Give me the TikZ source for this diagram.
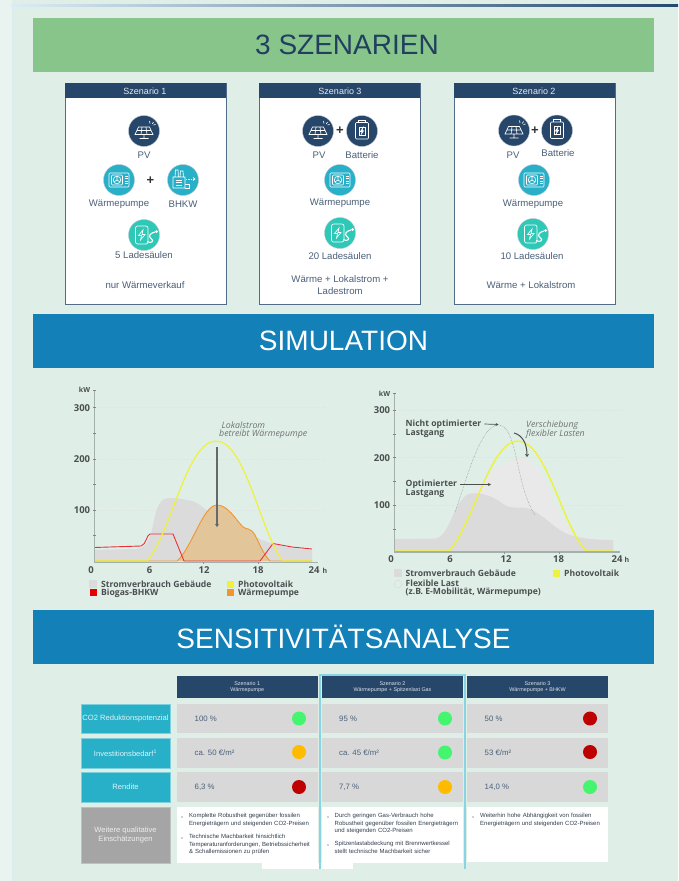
\documentclass[tikz,border=0pt]{standalone}
\usepackage{fontspec}
\setmainfont{Liberation Sans}
\newfontfamily\chartfont{Open Sans}
\usetikzlibrary{arrows.meta}
\definecolor{bgc}{HTML}{E0EEE8}
\definecolor{greenbar}{HTML}{87C58B}
\definecolor{bluebar}{HTML}{1380B8}
\definecolor{navy}{HTML}{26466A}
\definecolor{aqua}{HTML}{27B0C8}
\definecolor{mint}{HTML}{2DC9B6}
\definecolor{txtb}{HTML}{4A5F78}
\definecolor{cellg}{HTML}{D8D8D8}
\definecolor{qualg}{HTML}{A5A5A5}
\definecolor{sgreen}{HTML}{45F56F}
\definecolor{samber}{HTML}{FFBB00}
\definecolor{sred}{HTML}{BE0000}
\definecolor{pvy}{HTML}{EEF23A}
\definecolor{orangec}{HTML}{F0962E}
\definecolor{orangef}{HTML}{E3C59A}
\definecolor{redc}{HTML}{E8303A}
\definecolor{axisc}{HTML}{A3B0AC}
\definecolor{loadg}{HTML}{DBDBDB}
\definecolor{flexg}{HTML}{E9E9E9}
\definecolor{charttxt}{HTML}{4A4F50}
\tikzset{
 x=1pt,y=-1pt,
 banner/.style={minimum height=54pt,inner sep=0,font=\fontsize{28}{30}\selectfont},
 scard/.style={draw=navy!80,line width=1pt,fill=white},
 shead/.style={fill=navy,inner sep=0,text=white!90!navy,font=\fontsize{9}{10}\selectfont},
 lab/.style={text=txtb,font=\fontsize{9.6}{11.5}\selectfont,align=center,inner sep=0},
 icn/.style={circle,draw=white!70!navy,line width=0.4pt,minimum size=31pt,inner sep=0},
 pvicn/.style={icn,fill=navy},
 wpicn/.style={icn,fill=aqua},
 laicn/.style={icn,fill=mint},
 plus/.style={inner sep=0,font=\bfseries\fontsize{13}{13}\selectfont,text=black!80},
 rowlab/.style={fill=aqua,draw=aqua!60!white,line width=.4pt,text=white!85!aqua,minimum width=89pt,minimum height=29.5pt,inner sep=0,align=center,font=\fontsize{7.6}{9.5}\selectfont},
 thead/.style={fill=navy,text=white!85!navy,inner sep=0,align=center,font=\fontsize{5.4}{6.4}\selectfont},
 val/.style={anchor=west,text=txtb,inner sep=0,font=\fontsize{7.8}{9}\selectfont},
 dotg/.style={circle,fill=sgreen,minimum size=14pt,inner sep=0},
 dota/.style={circle,fill=samber,minimum size=14pt,inner sep=0},
 dotr/.style={circle,fill=sred,minimum size=14pt,inner sep=0},
 bul/.style={anchor=north west,inner sep=0,align=left,text=txtb!65!black,font=\fontsize{6}{7.3}\selectfont,text width=140pt},
 tick/.style={font=\chartfont\bfseries\fontsize{9.5}{9.5}\selectfont,text=charttxt,inner sep=0},
 smalltick/.style={font=\chartfont\bfseries\fontsize{7}{7}\selectfont,text=charttxt,inner sep=0},
 lege/.style={font=\chartfont\bfseries\fontsize{8.6}{9}\selectfont,text=charttxt,inner sep=0,anchor=west,align=left},
 note/.style={font=\chartfont\itshape\fontsize{8.8}{9}\selectfont,text=charttxt!80,inner sep=0,align=left,anchor=west},
 grid line/.style={draw=axisc!35,line width=.3pt,dotted},
 ptr/.style={draw=charttxt,line width=.7pt,-{Stealth[length=3pt,width=3pt]}},
}
\newcommand{\pvglyph}[1]{\begin{scope}[shift={(#1)},white,line width=.65pt]
 \draw (-9,3.5)--(-5.5,-4)--(5.5,-4)--(9,3.5)--cycle (-7,-.5)--(7,-.5) (-2,-4)--(-3,3.5) (2,-4)--(3,3.5) (0,3.5)--(0,7) (-4.5,7.5)--(4.5,7.5);
 \draw (5.5,-10)--(6,-7.5) (9.5,-9)--(8.3,-7) (11.5,-6.5)--(9.5,-6);\end{scope}}
\newcommand{\batglyph}[1]{\begin{scope}[shift={(#1)},white,line width=.65pt]
 \draw[rounded corners=1pt] (-6.5,-8.5) rectangle (6.5,8);\draw (-3.5,-8.5)--(-3.5,-11)--(3.5,-11)--(3.5,-8.5);
 \draw (-3,-4) rectangle (3,4);
 \draw (.8,-3)--(-1.6,.5)--(0,.5)--(-.6,3)--(1.6,-.3)--(0,-.3)--cycle;\end{scope}}
\newcommand{\wpglyph}[1]{\begin{scope}[shift={(#1)},white,line width=.65pt]
 \draw[rounded corners=1pt] (-10,-7) rectangle (10,7);\draw[rounded corners=1pt] (-7.5,-5) rectangle (3.5,5);
 \draw (-2,0) circle (3.8pt) (-2,0)--(-2,-3.8) (-2,0)--(-5.2,2) (-2,0)--(1.2,2);
 \draw (5.5,-3.5)--(8.5,-3.5) (5.5,-1.2)--(8.5,-1.2) (5.5,1.2)--(8.5,1.2) (5.5,3.5)--(8.5,3.5);\end{scope}}
\newcommand{\bhglyph}[1]{\begin{scope}[shift={(#1)},white,line width=.65pt]
 \draw (-10,8)--(-10,-3)--(2,-3)--(2,8)--cycle (-8,-3)--(-7.5,-10)--(-5,-10)--(-4.5,-3) (-3,-3)--(-2.5,-9)--(0,-9)--(.5,-3);
 \draw (-7,0)--(-1,0) (-7,2.5)--(-1,2.5) (-7,5)--(-1,5) (2,4)--(6,4)--(6,8)--(2,8);
 \draw[densely dotted] (3,-1)--(12,-1);\draw (10,-2.5)--(12,-1)--(10,.5);\end{scope}}
\newcommand{\laglyph}[1]{\begin{scope}[shift={(#1)},white,line width=.65pt]
 \draw[rounded corners=2pt] (-8.5,-9) rectangle (4,9);
 \draw (-1,-5)--(-5.5,.5)--(-2.5,.5)--(-3.5,5)--(1,-.5)--(-2,-.5)--cycle;
 \draw[line width=1.1pt] (3,6.5)..controls (7,9) and (11,6) .. (7,3.5) .. controls (4,1.5) and (6,-2) .. (11,-3);
 \fill (12.5,-3.5) circle (1.5pt);\end{scope}}
\begin{document}
\begin{tikzpicture}
\useasboundingbox (0,0) rectangle (678,881);
\fill[bgc] (0,0) rectangle (678,881);
\fill[bgc!70!white] (0,0) rectangle (12,881);
\shade[left color=bluebar!15!white,middle color=bluebar!35!white,right color=navy!95!bluebar] (11,4.3) rectangle (678,6.5);
\fill[bluebar!15!white] (11.5,5) rectangle (14,881);
% banners
\node[banner,fill=greenbar,text=navy!90!black,minimum width=621pt] (b1) at (343.5,45) {\hspace*{7pt}\raisebox{-1pt}{3 SZENARIEN}};
\node[banner,fill=bluebar,text=white,minimum width=621pt] (b2) at (343.5,341) {\raisebox{-1pt}{SIMULATION}};
\node[banner,fill=bluebar,text=white,minimum width=621pt] (b3) at (343.5,637) {SENSITIVITÄTSANALYSE};
% scenario cards
\draw[scard] (65,83) rectangle (226,304);
\fill[navy] (65,83) rectangle (226,98);
\node[shead] (h1) at (145,91) {Szenario 1};
\draw[scard] (259,83) rectangle (420,304);
\fill[navy] (259,83) rectangle (420,98);
\node[shead] (h3) at (340,91) {Szenario 3};
\draw[scard] (454,83) rectangle (615,304);
\fill[navy] (454,83) rectangle (615,98);
\node[shead] (h2) at (534,91) {Szenario 2};
% card 1
\node[pvicn] (a1) at (144,131) {};\pvglyph{144,131}
\node[lab] (a1t) at (144,155) {PV};
\node[wpicn] (a2) at (119,180) {};\wpglyph{119,180}
\node[plus] (a3) at (150.5,181) {+};
\node[wpicn] (a4) at (183,180) {};\bhglyph{183,180}
\node[lab] (a2t) at (119,204) {Wärmepumpe};
\node[lab] (a4t) at (183,204) {BHKW};
\node[laicn] (a5) at (144,235) {};\laglyph{144,235}
\node[lab] (a5t) at (144,255.5) {5 Ladesäulen};
\node[lab] (a6t) at (145,285.5) {nur Wärmeverkauf};
% card 3
\node[pvicn] (c1) at (318,131) {};\pvglyph{318,131}
\node[plus] (c0) at (340,131) {+};
\node[pvicn] (c2) at (362,131) {};\batglyph{362,131}
\node[lab] (c1t) at (319,155) {PV};
\node[lab] (c2t) at (362,155) {Batterie};
\node[wpicn] (c3) at (340,180) {};\wpglyph{340,180}
\node[lab] (c3t) at (340,203) {Wärmepumpe};
\node[laicn] (c4) at (340,233) {};\laglyph{340,233}
\node[lab] (c4t) at (340,256) {20 Ladesäulen};
\node[lab] (c5t) at (340,285) {Wärme + Lokalstrom +\\Ladestrom};
% card 2
\node[pvicn] (d1) at (514,130.5) {};\pvglyph{514,130.5}
\node[plus] (d0) at (535,130.5) {+};
\node[pvicn] (d2) at (557,130.5) {};\batglyph{557,130.5}
\node[lab] (d1t) at (513,155) {PV};
\node[lab] (d2t) at (558,153.5) {Batterie};
\node[wpicn] (d3) at (534,180) {};\wpglyph{534,180}
\node[lab] (d3t) at (533,204) {Wärmepumpe};
\node[laicn] (d4) at (533,234) {};\laglyph{533,234}
\node[lab] (d4t) at (532,256) {10 Ladesäulen};
\node[lab] (d5t) at (531,285.5) {Wärme + Lokalstrom};
% ---- left chart
\foreach \y in {407,459,510} \draw[grid line] (94,\y)--(325,\y);
\fill[loadg] (94,561) -- (94,550) -- (136,549) .. controls (146,548) and (150,540) .. (153,525)
 .. controls (157,505) and (160,498) .. (170,498) .. controls (180,498) and (185,500) .. (192,501)
 .. controls (202,504) and (205,512) .. (215,514) .. controls (225,516) and (230,515) .. (235,519)
 .. controls (245,528) and (252,536) .. (262,540) .. controls (275,545) and (290,549) .. (312,550) -- (312,561) -- cycle;
\fill[orangef] (177,561) .. controls (192,548) and (203,505) .. (217,505) .. controls (228,505) and (236,520) .. (243,527)
 .. controls (247,530) and (250,527) .. (255,535) .. controls (260,545) and (264,555) .. (270,561) -- cycle;
\draw[orangec,line width=.9pt] (94,561)--(177,561) .. controls (192,548) and (203,505) .. (217,505) .. controls (228,505) and (236,520) .. (243,527)
 .. controls (247,530) and (250,527) .. (255,535) .. controls (260,545) and (264,555) .. (270,561)--(312,561);
\draw[redc,line width=.9pt] (94,547.5)--(141,546) .. controls (146,545) and (147,534) .. (150,534)--(173,534)--(184,561)--(260,561)--(273,543.5)--(292,547)--(312,549);
\draw[pvy,line width=1.2pt] (94,560)--(148,560) .. controls (172,530) and (187,441) .. (216,441) .. controls (245,441) and (260,530) .. (282,560)--(312,560);
\draw[axisc,line width=1.5pt] (94.5,390)--(94.5,562);
\foreach \y in {390,407,433,459,484,510,535} \draw[charttxt!70,line width=.4pt] (93,\y)--(96,\y);
\draw[axisc,line width=1pt] (94,562)--(318,562);
\foreach \x in {203,258} \draw[charttxt!60,line width=.4pt] (\x,562)--(\x,564);
\node[smalltick] (kw1) at (84.5,390) {kW};
\node[tick] (y1) at (82,408) {300};
\node[tick] (y2) at (82,459) {200};
\node[tick] (y3) at (82,510) {100};
\node[tick] (x0) at (91,570) {0};
\node[tick] (x1) at (149.5,570) {6};
\node[tick] (x2) at (204,570) {12};
\node[tick] (x3) at (258,570) {18};
\node[tick] (x4) at (314,570) {24};
\node[smalltick] (xh) at (325,571) {h};
\node[note] (n1) at (221.5,425) {Lokalstrom};
\node[note] (n2) at (219,434.5) {betreibt Wärmepumpe};
\coordinate (ar1a) at (217,447);
\coordinate (ar1b) at (217,527);
\draw[draw=charttxt!85,line width=1.2pt,-{Stealth[length=3pt,width=4pt]}] (ar1a)--(ar1b);
\fill[loadg] (89,580) rectangle (97,588);\node[lege] (l1) at (101,584) {Stromverbrauch Gebäude};
\fill[red!90!black] (90,589) rectangle (97,596);\node[lege] (l2) at (101,593) {Biogas-BHKW};
\fill[pvy] (227,581) rectangle (234,588);\node[lege] (l3) at (238,584) {Photovoltaik};
\fill[orangec] (227,589) rectangle (234,596);\node[lege] (l4) at (238,593) {Wärmepumpe};
% ---- right chart
\foreach \y in {410,457,505} \draw[grid line] (394,\y)--(625,\y);
\fill[flexg] (470,495) .. controls (478,488) and (490,465) .. (520,458) .. controls (532,458) and (540,470) .. (547,484) .. controls (553,498) and (560,520) .. (578,537) -- (578,551) -- (470,551) -- cycle;
\fill[loadg] (394,551) -- (394,539) -- (436,538.5) .. controls (450,535) and (452,505) .. (468,494) .. controls (480,491) and (495,497) .. (503,504) .. controls (510,509) and (520,507) .. (527,508) .. controls (540,512) and (552,526) .. (565,533) .. controls (578,539) and (600,540) .. (613,540) -- (613,551) -- cycle;
\draw[charttxt!65,line width=.5pt,densely dotted] (455,512) .. controls (465,485) and (480,425) .. (498,425) .. controls (518,425) and (515,485) .. (535,515);
\draw[pvy,line width=1.4pt] (394,551)--(449,551) .. controls (473,525) and (490,441) .. (518,441) .. controls (546,441) and (562,525) .. (586,551)--(614,551);
\draw[axisc,line width=1.2pt] (394.5,393)--(394.5,552);
\foreach \y in {393,410,434,457,481,505,529} \draw[charttxt!70,line width=.4pt] (393,\y)--(396,\y);
\draw[axisc,line width=1.2pt] (394,552)--(620,552);
\foreach \x in {504,559} \draw[charttxt!60,line width=.4pt] (\x,552)--(\x,554);
\node[smalltick] (kw2) at (384.5,394) {kW};
\node[tick] (ry1) at (382,410.5) {300};
\node[tick] (ry2) at (382,458) {200};
\node[tick] (ry3) at (382,505) {100};
\node[tick] (rx0) at (391,559) {0};
\node[tick] (rx1) at (450,559) {6};
\node[tick] (rx2) at (506,559) {12};
\node[tick] (rx3) at (558.5,559) {18};
\node[tick] (rx4) at (617,559) {24};
\node[smalltick] (rxh) at (627,560) {h};
\node[lege] (t1) at (405.5,424) {Nicht optimierter};
\node[lege] (t2) at (405.5,433) {Lastgang};
\node[lege] (t3) at (405.5,484.5) {Optimierter};
\node[lege] (t4) at (405.5,493.5) {Lastgang};
\coordinate (p1) at (498.5,424.5);
\coordinate (p2) at (491,484.5);
\draw[ptr] ([xshift=3pt]t1.east) -- (p1);
\draw[ptr] ([xshift=3pt]t3.east) -- (p2);
\node[note] (v1) at (526,425.5) {Verschiebung};
\node[note] (v2) at (526,434) {flexibler Lasten};
\coordinate (v3) at (514,433);
\coordinate (v4) at (527,457);
\draw[draw=charttxt,line width=1pt,-{Stealth[length=3pt,width=4pt]}] (v3) .. controls (522,435) and (527,443) .. (v4);
\fill[loadg] (394,569) rectangle (402,577);\node[lege] (rl1) at (405.5,573.5) {Stromverbrauch Gebäude};
\draw[charttxt!40,densely dotted,line width=.4pt] (398,584) circle (4pt);\node[lege] (rl2) at (405.5,583.5) {Flexible Last};
\node[lege] (rl3) at (405.5,592.5) {(z.B. E-Mobilität, Wärmepumpe)};
\fill[pvy] (553,570) rectangle (560,577);\node[lege] (rl4) at (564,573.5) {Photovoltaik};
% ---- table
\fill[white] (176.5,807) rectangle (318,863);
\fill[white] (262,863) rectangle (353,869);
\fill[white] (322,807) rectangle (463,863);
\fill[white] (467,807) rectangle (608,862);
\node[thead,minimum width=141.5pt,minimum height=22pt] (th1) at (247.25,687) {Szenario 1\\Wärmepumpe};
\node[thead,minimum width=141pt,minimum height=22pt] (th2) at (392.5,687) {Szenario 2\\Wärmepumpe + Spitzenlast Gas};
\node[thead,minimum width=141pt,minimum height=22pt] (th3) at (537.5,687) {Szenario 3\\Wärmepumpe + BHKW};
\node[rowlab] (r1) at (125.5,718.5) {CO2 Reduktionspotenzial};
\node[rowlab] (r2) at (125.5,753) {Investitionsbedarf\textsuperscript{1}};
\node[rowlab] (r3) at (125.5,787) {Rendite};
\node[rowlab,fill=qualg,draw=qualg!70!white,text=white!80!qualg,minimum height=56pt] (r4) at (125.5,835) {Weitere qualitative\\Einschätzungen};
\foreach \yy in {718.5,753,787}{
 \fill[cellg] (176.5,\yy-14.75) rectangle (318,\yy+14.75);
 \fill[cellg] (322,\yy-14.75) rectangle (463,\yy+14.75);
 \fill[cellg] (467,\yy-14.75) rectangle (608,\yy+14.75);
}
\node[val] (v11) at (194.5,718.5) {100 \%};
\node[val] (v12) at (194.5,753) {ca. 50 €/m²};
\node[val] (v13) at (194.5,787) {6,3 \%};
\node[val] (v21) at (339,718.5) {95 \%};
\node[val] (v22) at (339,753) {ca. 45 €/m²};
\node[val] (v23) at (339,787) {7,7 \%};
\node[val] (v31) at (484.5,718.5) {50 \%};
\node[val] (v32) at (484.5,753) {53 €/m²};
\node[val] (v33) at (484.5,787) {14,0 \%};
\node[dotg] (e11) at (299,718.5) {};
\node[dota] (e12) at (299,752) {};
\node[dotr] (e13) at (299,787) {};
\node[dotg] (e21) at (445,718.5) {};
\node[dotg] (e22) at (445,752.5) {};
\node[dota] (e23) at (445,787) {};
\node[dotr] (e31) at (590,718.5) {};
\node[dotr] (e32) at (590,752) {};
\node[dotg] (e33) at (590,787) {};
% bullets
\node[bul] (q1) at (189,813.2) {Komplette Robustheit gegenüber fossilen\\Energieträgern und steigenden CO2-Preisen};
\node[bul] (q2) at (189,834.2) {Technische Machbarkeit hinsichtlich\\Temperaturanforderungen, Betriebssicherheit\\\& Schallemissionen zu prüfen};
\node[bul] (q3) at (334.5,813.2) {Durch geringen Gas-Verbrauch hohe\\Robustheit gegenüber fossilen Energieträgern\\und steigenden CO2-Preisen};
\node[bul] (q4) at (334.5,841.2) {Spitzenlastabdeckung mit Brennwertkessel\\stellt technische Machbarkeit sicher};
\node[bul] (q5) at (480,813.2) {Weiterhin hohe Abhängigkeit von fossilen\\Energieträgern und steigenden CO2-Preisen};
\foreach \bx/\by in {182/817,182/838,328/817,328/845,473/817}
 \fill[txtb!65!black] (\bx,\by) circle (.7pt);
% highlight
\draw[aqua!55!white,line width=1.2pt] (320,869) -- (320,675) -- (465,675) -- (465,869);
\end{tikzpicture}
\end{document}
